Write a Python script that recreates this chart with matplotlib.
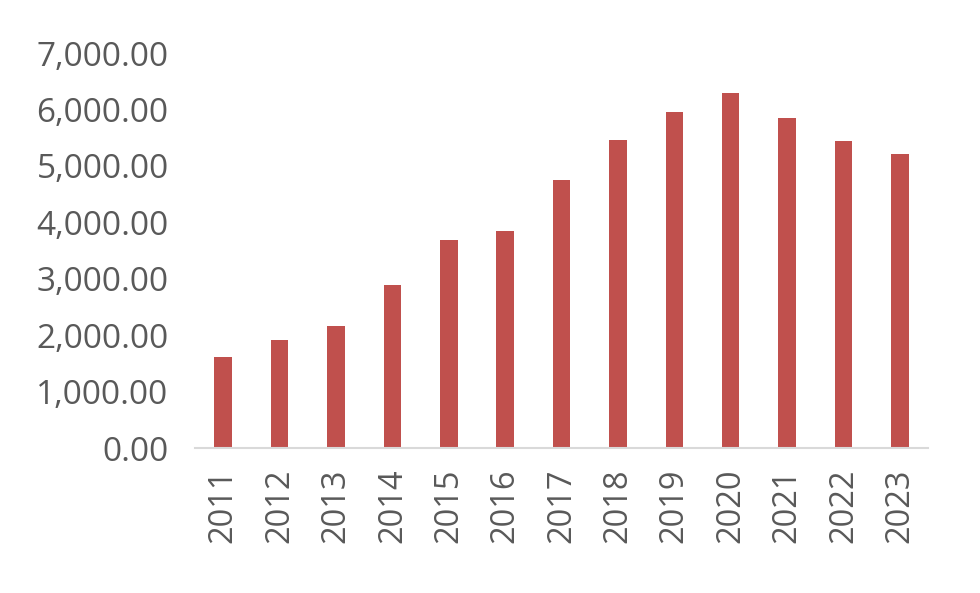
import matplotlib
matplotlib.use("Agg")
import matplotlib.pyplot as plt
from matplotlib.ticker import FuncFormatter

# Dữ liệu
years = ['2011', '2012', '2013', '2014', '2015', '2016', '2017',
         '2018', '2019', '2020', '2021', '2022', '2023']
values = [1610, 1915, 2160, 2890, 3690, 3850, 4750,
          5460, 5960, 6290, 5850, 5440, 5210]

plt.rcParams['font.family'] = ['Open Sans', 'DejaVu Sans']

fig = plt.figure(figsize=(9.8, 5.93), dpi=100)
ax = fig.add_axes([0.199, 0.2445, 0.748, 0.666])

x = range(len(years))
ax.bar(x, values, width=0.31, color='#C0504D')

ax.set_xlim(-0.5, len(years) - 0.5)
ax.set_ylim(0, 7000)
ax.set_yticks(range(0, 7001, 1000))
ax.yaxis.set_major_formatter(FuncFormatter(lambda v, p: f'{v:,.2f}'))
ax.set_xticks(list(x))
ax.set_xticklabels(years, rotation=90)

for s in ['top', 'right', 'left']:
    ax.spines[s].set_visible(False)
ax.spines['bottom'].set_color('#D9D9D9')
ax.spines['bottom'].set_linewidth(1.5)

ax.tick_params(axis='y', length=0, labelsize=24, labelcolor='#595959', pad=19)
ax.tick_params(axis='x', length=0, labelsize=23.5, labelcolor='#595959', pad=15)

fig.savefig('out.png', dpi=100)
